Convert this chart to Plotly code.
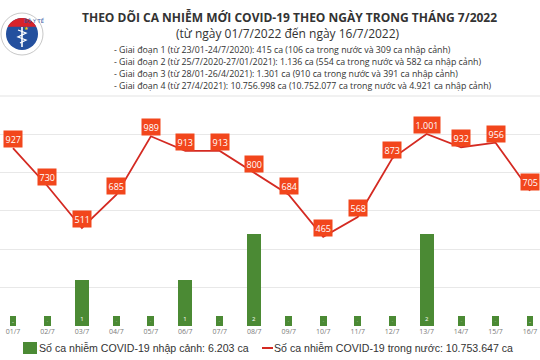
import numpy as np
import plotly.graph_objects as go

# ---------------- data ----------------
dates = ["01/7", "02/7", "03/7", "04/7", "05/7", "06/7", "07/7", "08/7",
         "09/7", "10/7", "11/7", "12/7", "13/7", "14/7", "15/7", "16/7"]
domestic = [927, 730, 511, 685, 989, 913, 913, 800,
            684, 465, 568, 873, 1001, 932, 956, 705]
imported = [0, 0, 1, 0, 0, 1, 0, 2, 0, 0, 0, 0, 2, 0, 0, 0]

title_main = "THEO DÕI CA NHIỄM MỚI COVID-19 THEO NGÀY TRONG THÁNG 7/2022"
title_sub = "(từ ngày 01/7/2022 đến ngày 16/7/2022)"
notes = [
    "- Giai đoạn 1 (từ 23/01-24/7/2020): 415 ca (106 ca trong nước và 309 ca nhập cảnh)",
    "- Giai đoạn 2 (từ 25/7/2020-27/01/2021): 1.136 ca (554 ca trong nước và 582 ca nhập cảnh)",
    "- Giai đoạn 3 (từ 28/01-26/4/2021): 1.301 ca (910 ca trong nước và 391 ca nhập cảnh)",
    "- Giai đoạn 4 (từ 27/4/2021): 10.756.998 ca (10.752.077 ca trong nước và 4.921 ca nhập cảnh)",
]
legend_imported = "Số ca nhiễm COVID-19 nhập cảnh: 6.203 ca"
legend_domestic = "Số ca nhiễm COVID-19 trong nước: 10.753.647 ca"

# ---------------- styling ----------------
W, H = 540, 360
PLOT_TOP, PLOT_BOT = 115, 326
LINE_COLOR = "#d42a22"
LABEL_BG = "#f2461c"
BAR_COLOR = "#4b8a34"
TEXT_COLOR = "#333333"


def fmt(v):
    return f"{v:,}".replace(",", ".")


def px(x):
    return x / W


def py(y):
    return (PLOT_BOT - y) / (PLOT_BOT - PLOT_TOP)


# zero values drawn as small stubs carrying a "-" label
bar_heights = [v if v else 0.22 for v in imported]
bar_widths = [0.41 if v else 0.2 for v in imported]
bar_text = [str(v) if v else "-" for v in imported]

fig = go.Figure()

fig.add_trace(go.Bar(
    x=dates, y=bar_heights, width=bar_widths, yaxis="y2",
    marker=dict(color=BAR_COLOR, line=dict(width=0)),
    text=bar_text, textposition="inside", insidetextanchor="start",
    textfont=dict(color="white", size=6, family="Open Sans"),
    textangle=0, showlegend=False, hoverinfo="skip",
))

fig.add_trace(go.Scatter(
    x=dates, y=domestic, mode="lines", yaxis="y",
    line=dict(color=LINE_COLOR, width=1.8),
    showlegend=False, hoverinfo="skip",
))

annotations = []
for d, v in zip(dates, domestic):
    annotations.append(dict(
        x=d, y=v, xref="x", yref="y", text=fmt(v), showarrow=False,
        yshift=9, bgcolor=LABEL_BG, borderpad=1.5,
        font=dict(color="white", size=9, family="Open Sans"),
    ))

# titles
annotations.append(dict(
    x=px(289), y=py(17), xref="paper", yref="paper", text="<b>" + title_main + "</b>",
    showarrow=False, xanchor="center", yanchor="middle", borderpad=0,
    font=dict(size=12, color=TEXT_COLOR, family="Open Sans"),
))
annotations.append(dict(
    x=px(288), y=py(33), xref="paper", yref="paper", text=title_sub,
    showarrow=False, xanchor="center", yanchor="middle", borderpad=0,
    font=dict(size=12, color=TEXT_COLOR, family="Open Sans"),
))
for i, line in enumerate(notes):
    annotations.append(dict(
        x=px(113), y=py(50 + 12 * i), xref="paper", yref="paper", text=line,
        showarrow=False, xanchor="left", yanchor="middle", borderpad=0,
        font=dict(size=8.8, color=TEXT_COLOR, family="Open Sans"),
    ))

# manual legend
annotations.append(dict(
    x=px(37), y=py(348), xref="paper", yref="paper", text=legend_imported,
    showarrow=False, xanchor="left", yanchor="middle",
    font=dict(size=10.6, color=TEXT_COLOR, family="Liberation Sans"),
))
annotations.append(dict(
    x=px(272), y=py(348), xref="paper", yref="paper", text=legend_domestic,
    showarrow=False, xanchor="left", yanchor="middle",
    font=dict(size=10.6, color=TEXT_COLOR, family="Liberation Sans"),
))

shapes = []
# separator below header
shapes.append(dict(type="line", xref="paper", yref="paper",
                   x0=0, x1=1, y0=py(96), y1=py(96),
                   line=dict(color="#e3e3e3", width=1)))
# legend symbols
shapes.append(dict(type="rect", xref="paper", yref="paper",
                   x0=px(23), x1=px(37), y0=py(342), y1=py(354),
                   fillcolor=BAR_COLOR, line=dict(width=0)))
shapes.append(dict(type="line", xref="paper", yref="paper",
                   x0=px(262), x1=px(273), y0=py(348), y1=py(348),
                   line=dict(color=LINE_COLOR, width=2)))

# logo (Bộ Y tế emblem, approximate)
cx, cy = 22, 34
shapes.append(dict(type="circle", xref="paper", yref="paper",
                   x0=px(cx - 21), x1=px(cx + 21), y0=py(cy + 21), y1=py(cy - 21),
                   fillcolor="white", line=dict(color="#c8c8c8", width=1)))
shapes.append(dict(type="circle", xref="paper", yref="paper",
                   x0=px(cx - 16), x1=px(cx + 16), y0=py(cy + 16), y1=py(cy - 16),
                   fillcolor="#24509e", line=dict(width=0)))
ang = np.linspace(np.pi * 0.15, np.pi * 0.85, 24)
pts = [(cx + 16 * np.cos(a), cy - 16 * np.sin(a)) for a in ang]
path = "M " + " L ".join(f"{px(x):.5f},{py(y):.5f}" for x, y in pts) + " Z"
shapes.append(dict(type="path", xref="paper", yref="paper", path=path,
                   fillcolor="#d8232a", line=dict(width=0)))
# staff and snake
shapes.append(dict(type="line", xref="paper", yref="paper",
                   x0=px(cx), x1=px(cx), y0=py(cy - 7), y1=py(cy + 13),
                   line=dict(color="white", width=1.6)))
snake = [(cx - 4, cy - 4), (cx + 4, cy - 1), (cx - 4, cy + 3), (cx + 4, cy + 6), (cx - 2, cy + 9)]
spath = "M " + " L ".join(f"{px(x):.5f},{py(y):.5f}" for x, y in snake)
shapes.append(dict(type="path", xref="paper", yref="paper", path=spath,
                   line=dict(color="white", width=1.3)))
annotations.append(dict(
    x=px(cx), y=py(cy - 19), xref="paper", yref="paper", text="BỘ Y TẾ",
    showarrow=False, font=dict(size=5, color="#24509e", family="DejaVu Sans"),
))
annotations.append(dict(
    x=px(cx), y=py(cy - 11.5), xref="paper", yref="paper", text="★",
    showarrow=False, font=dict(size=5, color="#f5d000", family="DejaVu Sans"),
))

fig.update_layout(
    width=W, height=H,
    margin=dict(l=0, r=0, t=PLOT_TOP, b=H - PLOT_BOT, pad=0),
    paper_bgcolor="white", plot_bgcolor="white",
    showlegend=False,
    bargap=0,
    xaxis=dict(
        type="category", range=[-0.377, 15.29], showgrid=False, zeroline=False,
        showline=False, ticks="", tickfont=dict(size=7, color="#7a7a7a", family="Open Sans"),
        fixedrange=True,
    ),
    yaxis=dict(
        range=[0, 1100], tickvals=[0, 200, 400, 600, 800, 1000], showticklabels=False,
        showgrid=True, gridcolor="#e8e8e8", gridwidth=1, zeroline=False, showline=False,
    ),
    yaxis2=dict(
        range=[0, 4.587], overlaying="y", side="right", showgrid=False,
        showticklabels=False, zeroline=False, showline=False,
    ),
    annotations=annotations,
    shapes=shapes,
)

fig.write_html(
    "out.html",
    config={"displayModeBar": False},
    post_script="document.body.style.margin='0';document.body.style.padding='0';",
)
